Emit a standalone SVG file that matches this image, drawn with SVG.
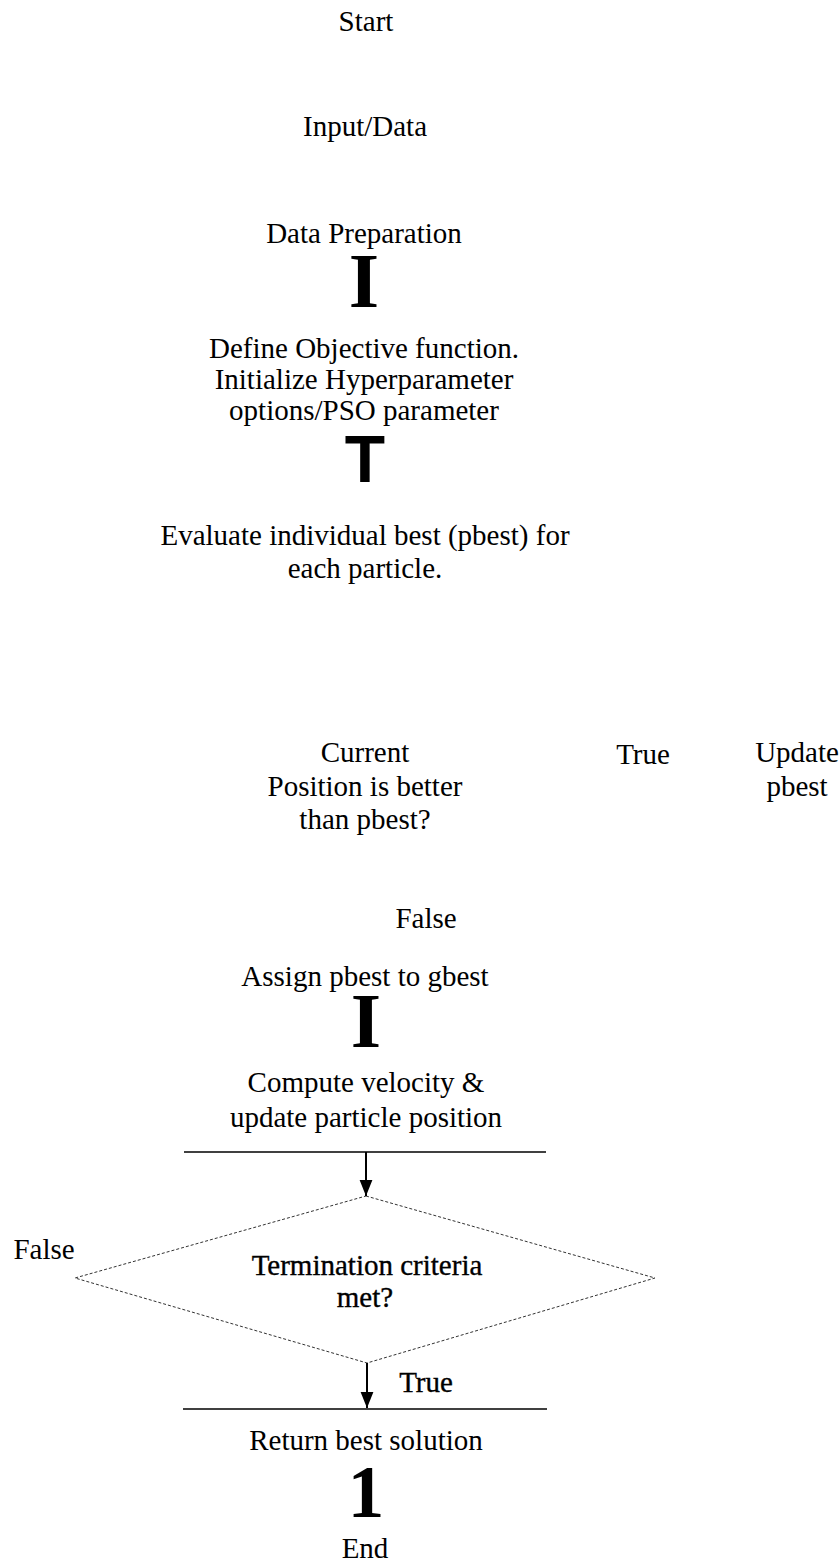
<svg xmlns="http://www.w3.org/2000/svg" width="840" height="1562" viewBox="0 0 840 1562">
  <style>
    .t { font-family: "Liberation Serif", "Times New Roman", serif; font-size: 29px; fill: #000; text-anchor: middle; }
    .raster { stroke: #000; stroke-width: 0.35px; }
    .bigserif { font-family: "Liberation Serif", "Times New Roman", serif; font-weight: bold; fill: #000; text-anchor: middle; }
    .bigsans { font-family: "Liberation Sans", Arial, sans-serif; font-weight: bold; fill: #000; text-anchor: middle; }
    .rule { stroke: #000; stroke-width: 1.4; fill: none; }
    .flow { stroke: #000; stroke-width: 2; fill: none; }
    .diamond { stroke: #333; stroke-width: 1; stroke-dasharray: 3 2; fill: none; }
  </style>
  <defs>
    <marker id="arrow" viewBox="0 0 10 10" refX="10" refY="5" markerWidth="8" markerHeight="8" markerUnits="strokeWidth" orient="auto">
      <path d="M0,1 L10,5 L0,9 Z" fill="#000"/>
    </marker>
  </defs>

  <g id="start"><text class="t" x="366" y="31">Start</text></g>
  <g id="input"><text class="t" x="365" y="136">Input/Data</text></g>
  <g id="prep"><text class="t" x="364" y="243">Data Preparation</text></g>
  <g id="glyph-i1"><text class="bigserif" x="364" y="307" font-size="78">I</text></g>
  <g id="define">
    <text class="t" x="364" y="358">Define Objective function.</text>
    <text class="t" x="364" y="389">Initialize Hyperparameter</text>
    <text class="t" x="364" y="420">options/PSO parameter</text>
  </g>
  <g id="glyph-t"><text class="bigsans" x="365" y="482" font-size="66">T</text></g>
  <g id="evaluate">
    <text class="t" x="365" y="545">Evaluate individual best (pbest) for</text>
    <text class="t" x="365" y="578">each particle.</text>
  </g>
  <g id="check">
    <text class="t" x="365" y="762">Current</text>
    <text class="t" x="365" y="796">Position is better</text>
    <text class="t" x="365" y="829">than pbest?</text>
  </g>
  <g id="label-true1"><text class="t" x="643" y="764">True</text></g>
  <g id="update">
    <text class="t" x="797" y="762">Update</text>
    <text class="t" x="797" y="796">pbest</text>
  </g>
  <g id="label-false1"><text class="t" x="426" y="928">False</text></g>
  <g id="assign"><text class="t" x="365" y="986">Assign pbest to gbest</text></g>
  <g id="glyph-i2"><text class="bigserif" x="366" y="1047" font-size="78">I</text></g>
  <g id="compute">
    <text class="t" x="366" y="1092">Compute velocity &amp;</text>
    <text class="t" x="366" y="1127">update particle position</text>
  </g>
  <g id="termination">
    <polygon class="diamond" points="366,1196 655,1278 367,1363 75,1278"/>
    <text class="t raster" x="367" y="1275">Termination criteria</text>
    <text class="t raster" x="365" y="1307">met?</text>
  </g>
  <g id="label-false2"><text class="t" x="44" y="1259">False</text></g>
  <g id="label-true2"><text class="t raster" x="426" y="1392">True</text></g>
  <g id="result"><text class="t" x="366" y="1450">Return best solution</text></g>
  <g id="glyph-one"><text class="bigserif" x="366" y="1517" font-size="73">1</text></g>
  <g id="end"><text class="t" x="365" y="1558">End</text></g>

  <g id="connectors">
    <line class="rule" x1="184" y1="1152" x2="546" y2="1152"/>
    <line class="flow" x1="366" y1="1152" x2="366" y2="1196" marker-end="url(#arrow)"/>
    <line class="flow" x1="367" y1="1363" x2="367" y2="1408" marker-end="url(#arrow)"/>
    <line class="rule" x1="183" y1="1409" x2="547" y2="1409"/>
  </g>
</svg>
